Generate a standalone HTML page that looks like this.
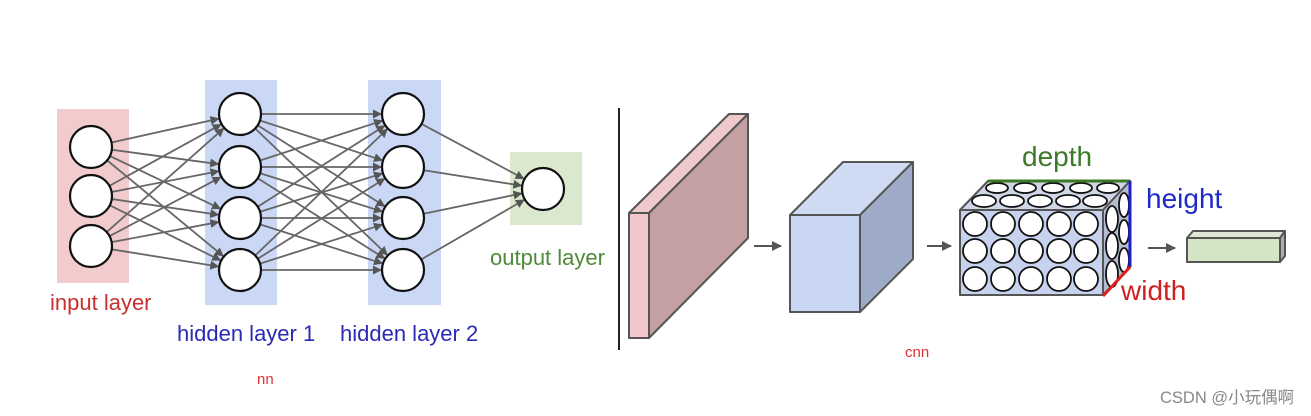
<!DOCTYPE html>
<html><head><meta charset="utf-8"><style>
html,body{margin:0;padding:0;background:#fff;width:1311px;height:416px;overflow:hidden}
svg{display:block}
text{font-family:"Liberation Sans","Noto Sans CJK SC",sans-serif}
</style></head><body>
<svg id="s" width="1311" height="416" viewBox="0 0 1311 416" xmlns="http://www.w3.org/2000/svg">
<defs><marker id="ah" markerWidth="9" markerHeight="9" refX="8" refY="4.5" orient="auto" markerUnits="userSpaceOnUse"><path d="M0,0 L9,4.5 L0,9 Z" fill="#555"/></marker>
<marker id="ah2" markerWidth="10" markerHeight="10" refX="9" refY="5" orient="auto" markerUnits="userSpaceOnUse"><path d="M0,0 L10,5 L0,10 Z" fill="#555"/></marker></defs>
<rect x="57" y="109" width="72" height="174" fill="#f2cccc"/>
<rect x="205" y="80" width="72" height="225" fill="#cad8f5"/>
<rect x="368" y="80" width="73" height="225" fill="#cad8f5"/>
<rect x="510" y="152" width="72" height="73" fill="#d9e8cf"/>
<g id="edges" stroke="#666" stroke-width="1.8"></g>
<g id="nodes" fill="#fff" stroke="#111" stroke-width="2.2"></g>
<text x="50" y="310" font-size="22" fill="#c8302e">input layer</text>
<text x="177" y="341" font-size="22" fill="#2a2ab5">hidden layer 1</text>
<text x="340" y="341" font-size="22" fill="#2a2ab5">hidden layer 2</text>
<text x="490" y="265" font-size="22" fill="#4f8a3a">output layer</text>
<text x="257" y="384" font-size="15" fill="#e03030">nn</text>
<text x="905" y="357" font-size="15" fill="#e03030">cnn</text>
<line x1="619" y1="108" x2="619" y2="350" stroke="#222" stroke-width="2"/>
<g stroke="#555" stroke-width="2" stroke-linejoin="round">
<polygon points="629,213 729,114 748,114 649,213" fill="#f0c9cc"/>
<polygon points="649,213 748,114 748,238 649,338" fill="#c4a0a2"/>
<rect x="629" y="213" width="20" height="125" fill="#f2c6cb"/>
<polygon points="790,215 843,162 913,162 860,215" fill="#cfdaf3"/>
<polygon points="860,215 913,162 913,259 860,312" fill="#9eabc6"/>
<rect x="790" y="215" width="70" height="97" fill="#c8d6f4"/>
<polygon points="960,210 988,181 1130,181 1103,210" fill="#d0d6e6"/>
<polygon points="1103,210 1130,181 1130,267 1103,295" fill="#b4bccf"/>
<rect x="960" y="210" width="143" height="85" fill="#c6d2ee"/>
<polygon points="1187,238 1193,231 1285,231 1280,238" fill="#dfe8d6"/>
<polygon points="1280,238 1285,231 1285,256 1280,262" fill="#a8b0a3"/>
<rect x="1187" y="238" width="93" height="24" fill="#d4e4c6"/>
</g>
<g id="cube" fill="#fff" stroke="#111" stroke-width="1.8"></g>
<line x1="988" y1="181" x2="1130" y2="181" stroke="#3b7a24" stroke-width="3"/>
<line x1="1130" y1="181" x2="1130" y2="267" stroke="#1f1fcf" stroke-width="3"/>
<line x1="1103" y1="296" x2="1130" y2="267" stroke="#e01f1f" stroke-width="3"/>
<text x="1022" y="166" font-size="28" fill="#3d7a2a">depth</text>
<text x="1146" y="208" font-size="28" fill="#1f2ac8">height</text>
<text x="1121" y="300" font-size="28" fill="#d01f1f">width</text>
<g stroke="#555" stroke-width="2">
<line x1="754" y1="246" x2="781" y2="246" marker-end="url(#ah2)"/>
<line x1="927" y1="246" x2="951" y2="246" marker-end="url(#ah2)"/>
<line x1="1148" y1="248" x2="1175" y2="248" marker-end="url(#ah2)"/>
</g>
<text x="1160" y="403" font-size="16.5" fill="#888">CSDN @小玩偶啊</text>
</svg>
<script>
var NS="http://www.w3.org/2000/svg";
function el(p,t,a){var e=document.createElementNS(NS,t);for(var k in a)e.setAttribute(k,a[k]);document.getElementById(p).appendChild(e);return e;}
var r=21;
var L=[[91,[147,196,246]],[240,[114,167,218,270]],[403,[114,167,218,270]],[543,[189]]];
for(var i=0;i<3;i++){var a=L[i],b=L[i+1];a[1].forEach(function(y1){b[1].forEach(function(y2){
var dx=b[0]-a[0],dy=y2-y1,d=Math.sqrt(dx*dx+dy*dy);
el("edges","line",{x1:a[0]+dx/d*r,y1:y1+dy/d*r,x2:b[0]-dx/d*(r+1),y2:y2-dy/d*(r+1),"marker-end":"url(#ah)"});});});}
L.forEach(function(l){l[1].forEach(function(y){el("nodes","circle",{cx:l[0],cy:y,r:r});});});
var xs=[975,1003,1031,1059,1086],ys=[224,251,279];
xs.forEach(function(x){el("cube","ellipse",{cx:x+22,cy:188,rx:11,ry:5});});
xs.forEach(function(x){el("cube","ellipse",{cx:x+9,cy:201,rx:12,ry:6});});
ys.forEach(function(y){el("cube","ellipse",{cx:1124,cy:y-19,rx:5,ry:12});el("cube","ellipse",{cx:1112,cy:y-5,rx:6,ry:13});});
ys.forEach(function(y){xs.forEach(function(x){el("cube","circle",{cx:x,cy:y,r:12});});});
</script>
</body></html>
